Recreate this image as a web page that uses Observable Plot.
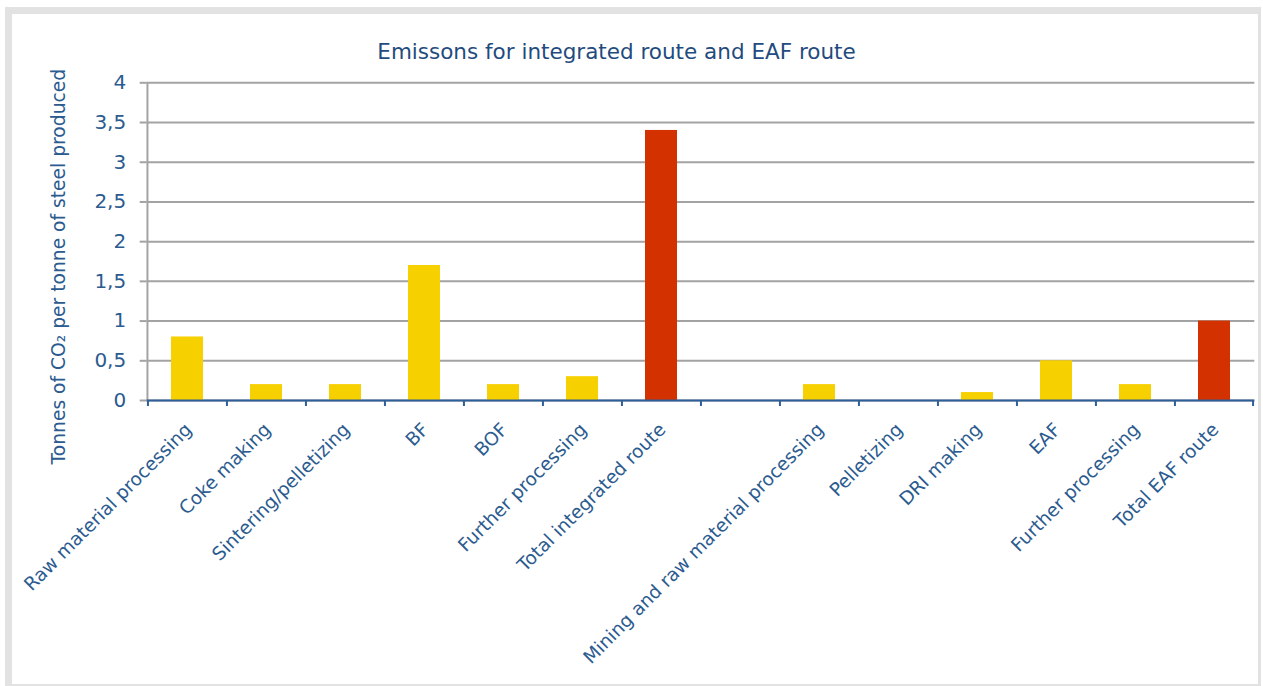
<!DOCTYPE html>
<html>
<head>
<meta charset="utf-8">
<script src="https://cdn.jsdelivr.net/npm/d3@7"></script>
<script src="https://cdn.jsdelivr.net/npm/@observablehq/plot@0.6"></script>
<style>
  html, body { margin: 0; padding: 0; background: #ffffff; }
  #wrap { position: relative; width: 1263px; height: 686px; overflow: hidden; }
  #frame { position: absolute; left: 5px; top: 7px; width: 1256px; height: 679px; box-sizing: border-box; border: 7px solid #e2e2e2; border-bottom-width: 2px; border-right-width: 3px; }
  #title { position: absolute; left: 0; top: 39px; width: 1233px; text-align: center; font-family: "DejaVu Sans", sans-serif; font-size: 21.5px; color: #1f4b7e; white-space: nowrap; }
  #chart { position: absolute; left: 0; top: 70px; }
</style>
</head>
<body>
<div id="wrap">
  <div id="frame"></div>
  <div id="title">Emissons for integrated route and EAF route</div>
  <div id="chart"></div>
</div>
<script>
const categories = ["Raw material processing", "Coke making", "Sintering/pelletizing", "BF", "BOF", "Further processing", "Total integrated route", "", "Mining and raw material processing", "Pelletizing", "DRI making", "EAF", "Further processing", "Total EAF route"];
const values = [0.8, 0.2, 0.2, 1.7, 0.2, 0.3, 3.4, null, 0.2, 0, 0.1, 0.5, 0.2, 1.0];
const barKinds = ["step", "step", "step", "step", "step", "step", "total", "none", "step", "step", "step", "step", "step", "total"];
const yTicks = [0, 0.5, 1, 1.5, 2, 2.5, 3, 3.5, 4];
const yLabel = "Tonnes of CO\u2082 per tonne of steel produced";

const slots = categories.map((c, i) => i);
const rows = slots.map(i => ({slot: i, name: categories[i], value: values[i], kind: barKinds[i]}));
const bars = rows.filter(d => d.value != null && d.value > 0);

const W = 1263, H = 616;
const mL = 146.7, mR = 8.7, mT = 12.3, mB = 286;
const step = (W - mL - mR) / slots.length;
const textColor = "#2b5b8f";
const gridColor = "#a3a3a3";
const font = "DejaVu Sans, sans-serif";

const chart = Plot.plot({
  width: W,
  height: H,
  marginLeft: mL,
  marginRight: mR,
  marginTop: mT,
  marginBottom: mB,
  style: {fontFamily: font, background: "transparent", overflow: "visible"},
  x: {type: "band", domain: slots, paddingInner: 0.6, paddingOuter: 0.3, axis: null},
  y: {domain: [0, 4], axis: null},
  color: {domain: ["step", "total"], range: ["#f7d000", "#d43100"]},
  marks: [
    Plot.gridY(yTicks, {stroke: gridColor, strokeOpacity: 1, strokeWidth: 2}),
    Plot.axisY(yTicks, {tickSize: 7, tickPadding: 14, stroke: gridColor, strokeWidth: 2, tickFormat: d => String(d).replace(".", ","), fontSize: 20, fill: textColor, label: null}),
    Plot.ruleX([0], {x: () => 0, y1: 0, y2: 4, dx: -step * 0.5 - 0.5, stroke: gridColor, strokeWidth: 2}),
    Plot.barY(bars, {x: "slot", y: "value", fill: "kind", style: {filter: "drop-shadow(0px 0px 2px rgba(0,0,0,0.18))"}}),
    Plot.ruleY([0], {stroke: "#2f5f98", strokeWidth: 2}),
    Plot.ruleX(slots, {x: d => d, y1: 0, y2: 0, insetBottom: -6, dx: -step / 2, stroke: "#2f5f98", strokeWidth: 2}),
    Plot.ruleX([slots[slots.length - 1]], {x: d => d, y1: 0, y2: 0, insetBottom: -6, dx: step / 2 - 1, stroke: "#2f5f98", strokeWidth: 2}),
    Plot.text(rows, {x: "slot", y: () => 0, text: "name", rotate: -45, textAnchor: "end", lineAnchor: "top", dx: -4, dy: 21, fontSize: 18.5, fill: textColor}),
    Plot.text([yLabel], {frameAnchor: "left", text: d => d, rotate: -90, textAnchor: "middle", lineAnchor: "middle", dx: -88, dy: 25, fontSize: 18.7, fill: textColor})
  ]
});
document.getElementById("chart").appendChild(chart);
</script>
</body>
</html>
